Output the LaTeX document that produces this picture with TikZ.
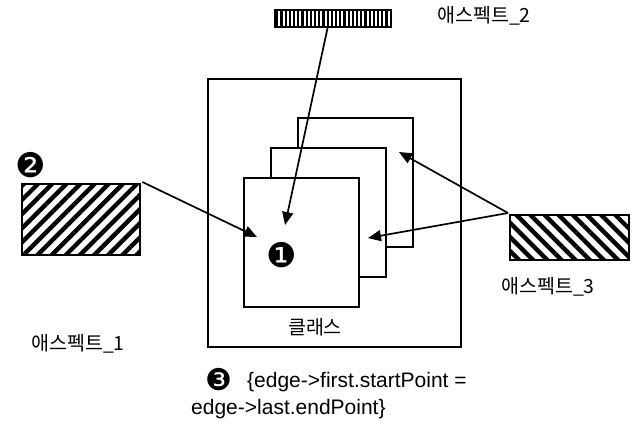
\documentclass[tikz,border=0pt]{standalone}
\usepackage{fontspec}
\setmainfont{Liberation Sans}
\newfontfamily\kr{Noto Sans CJK KR}
\newfontfamily\dv{DejaVu Sans}
\usetikzlibrary{arrows.meta,patterns.meta}
\begin{document}
\begin{tikzpicture}[x=1pt,y=-1pt,
  box/.style={draw,line width=1.8pt,inner sep=0pt,anchor=north west},
  sq/.style={box,fill=white,minimum width=115pt,minimum height=129pt},
  arr/.style={line width=1.7pt,-{Triangle[length=13pt,width=11pt]}},
  kl/.style={font=\kr\fontsize{19.5}{21}\selectfont},
  num/.style={font=\dv\fontsize{34}{36}\selectfont,inner sep=0pt}]
\useasboundingbox (0,0) rectangle (632,434);
% class box
\node[box,minimum width=253pt,minimum height=268pt] (cls) at (207,78) {};
\node[kl] (clsl) at (315,327) {클래스};
% stacked squares
\node[sq] (s3) at (297,117) {};
\node[sq] (s2) at (270,147) {};
\node[sq] (s1) at (243,177) {};
\node[num] (n1) at (282,255) {❶};
% aspects
\node[box,minimum width=118pt,minimum height=71pt,
  pattern={Lines[angle=45,distance=10pt,line width=4.4pt]}] (a1) at (20,182) {};
\node[box,minimum width=116pt,minimum height=17pt,
  pattern={Lines[angle=90,distance=4.2pt,line width=2.2pt]}] (a2) at (274,9) {};
\node[box,minimum width=119pt,minimum height=45pt,
  pattern={Lines[angle=-45,distance=10pt,line width=4.4pt]}] (a3) at (508,213) {};
\node[num] (n2) at (31,165) {❷};
\node[kl] (l1) at (78,344) {애스펙트\_1};
\node[kl] (l2) at (484,16) {애스펙트\_2};
\node[kl] (l3) at (548,287) {애스펙트\_3};
% arrow targets
\coordinate (t1) at (257,237);
\coordinate (t2) at (285,225);
\coordinate (t3) at (399,152);
\coordinate (t4) at (368,238);
\coordinate (o2) at (328,26);
\draw[arr] (a1.north east) -- (t1);
\draw[arr] (o2) -- (t2);
\draw[arr] (a3.north west) -- (t3);
\draw[arr] (a3.north west) -- (t4);
% note
\node[num,font=\dv\fontsize{30}{32}\selectfont,anchor=west] (n3) at (205,380) {❸};
\node[anchor=west,font=\fontsize{21}{24}\selectfont,inner sep=0pt] (nt1) at (247,382) {\{edge->first.startPoint =};
\node[anchor=west,font=\fontsize{21}{24}\selectfont,inner sep=0pt] (nt2) at (191,409) {edge->last.endPoint\}};
\end{tikzpicture}
\end{document}
